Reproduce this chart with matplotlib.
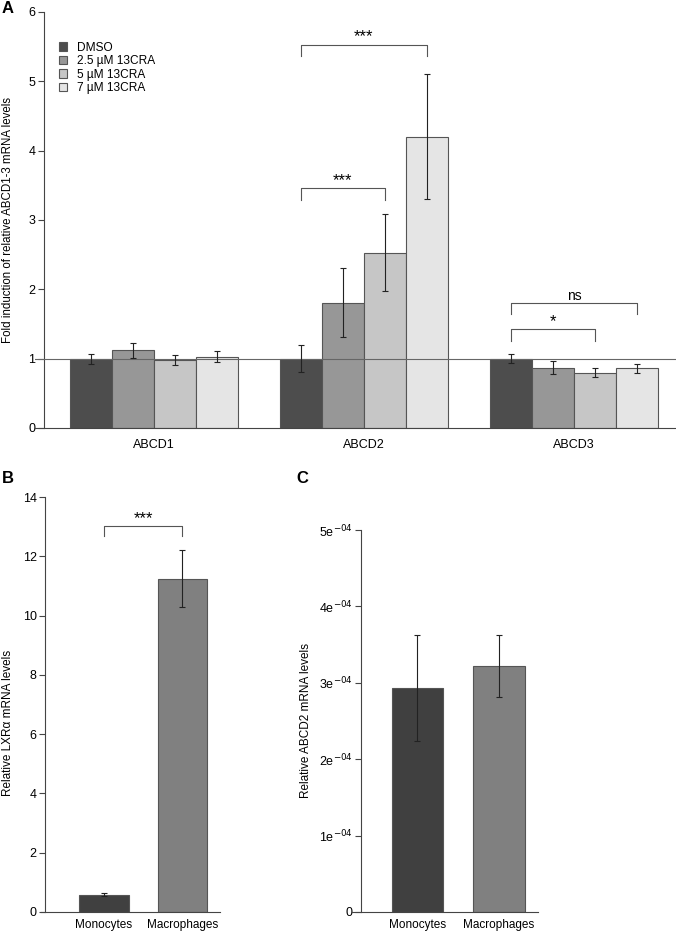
import matplotlib
matplotlib.use('Agg')
import matplotlib.pyplot as plt
import numpy as np

plt.rcParams['font.family'] = ['Liberation Sans', 'DejaVu Sans']

# panel A data
genes = ['ABCD1', 'ABCD2', 'ABCD3']
treatments = ['DMSO', '2.5 µM 13CRA', '5 µM 13CRA', '7 µM 13CRA']
fold = [[1.00, 1.00, 1.00],
        [1.12, 1.81, 0.87],
        [0.98, 2.53, 0.80],
        [1.03, 4.20, 0.86]]
fold_err = [[0.07, 0.19, 0.065],
            [0.11, 0.50, 0.09],
            [0.075, 0.55, 0.065],
            [0.085, 0.90, 0.07]]
a_colors = ['#4d4d4d', '#979797', '#c6c6c6', '#e5e5e5']
# (gene index, first bar, second bar, height, label)
a_sig = [(1, 0, 3, 5.53, '***'), (1, 0, 2, 3.46, '***'),
         (2, 0, 3, 1.81, 'ns'), (2, 0, 2, 1.43, '*')]

# panel B / C data
cells = ['Monocytes', 'Macrophages']
lxr = [0.59, 11.25]
lxr_err = [0.05, 0.97]
abcd2 = [2.93e-4, 3.22e-4]
abcd2_err = [0.69e-4, 0.40e-4]
bc_colors = ['#404040', '#808080']

W, H = 676, 932
fig = plt.figure(figsize=(W / 100, H / 100), dpi=100)

def px_axes(l, r, b, t):
    return fig.add_axes([l / W, (H - b) / H, (r - l) / W, (b - t) / H])

def style(ax, spine_x, xpad=8):
    for s in ['top', 'right']:
        ax.spines[s].set_visible(False)
    ax.spines['left'].set_position(('data', spine_x))
    for s in ['left', 'bottom']:
        ax.spines[s].set_color('#444444')
        ax.spines[s].set_linewidth(0.8)
    ax.tick_params(axis='y', length=4, width=0.8, color='#444444', labelsize=9, pad=2)
    ax.tick_params(axis='x', length=0, labelsize=9, pad=xpad)

def bracket(ax, x1, x2, y, drop, label, fs=12):
    ax.plot([x1, x1, x2, x2], [y - drop, y, y, y - drop], color='#555555', lw=0.8)
    ax.text((x1 + x2) / 2, y, label, ha='center', va='bottom', fontsize=fs)

# ---- panel A
axA = px_axes(35, 676, 428, 12)
for j in range(4):
    xs = np.arange(3) * 5 + j + 0.5
    axA.bar(xs, fold[j], width=1, color=a_colors[j], edgecolor='#555555',
            linewidth=0.8, label=treatments[j], zorder=2)
    axA.errorbar(xs, fold[j], yerr=fold_err[j], fmt='none', ecolor='#222222',
                 elinewidth=0.8, capsize=2, capthick=0.8, zorder=4)
axA.set_xlim(-0.83, 14.43)
axA.set_ylim(0, 6)
axA.axhline(1, color='#666666', lw=0.8, zorder=3)
style(axA, -0.62)
axA.set_xticks(np.arange(3) * 5 + 2)
axA.set_xticklabels(genes)
axA.set_yticks(range(7))
for g, i, k, y, lab in a_sig:
    if lab == 'ns':
        bracket(axA, g * 5 + i + 0.5, g * 5 + k + 0.5, y, 0.17, lab, fs=10)
    else:
        bracket(axA, g * 5 + i + 0.5, g * 5 + k + 0.5, y, 0.17, lab)
axA.legend(loc='upper left', bbox_to_anchor=(54 / W, 1 - 37 / H), bbox_transform=fig.transFigure,
           frameon=False, fontsize=8.6, handlelength=0.7, handleheight=0.7,
           labelspacing=0.12, handletextpad=0.8, borderaxespad=0)
fig.text(8 / W, 1 - 220 / H, 'Fold induction of relative ABCD1-3 mRNA levels',
         rotation=90, ha='center', va='center', fontsize=8.3)
fig.text(2 / W, 1 - 1 / H, 'A', fontsize=12, fontweight='bold', ha='left', va='top')

# ---- panel B
axB = px_axes(41, 220, 912, 497)
axB.bar([0, 1], lxr, width=0.63, color=bc_colors, edgecolor='#555555', linewidth=0.8, zorder=2)
axB.errorbar([0, 1], lxr, yerr=lxr_err, fmt='none', ecolor='#222222',
             elinewidth=0.8, capsize=2, capthick=0.8, zorder=3)
axB.set_xlim(-0.80, 1.48)
axB.set_ylim(0, 14)
style(axB, -0.75, xpad=5)
axB.set_xticks([0, 1])
axB.set_xticklabels(cells, fontsize=8.5)
axB.set_yticks(range(0, 15, 2))
bracket(axB, 0, 1, 13.03, 0.33, '***')
fig.text(8 / W, 1 - 723 / H, 'Relative LXRα mRNA levels', rotation=90,
         ha='center', va='center', fontsize=8.5)
fig.text(2 / W, 1 - 478 / H, 'B', fontsize=12, fontweight='bold', ha='left', va='center')

# ---- panel C
axC = px_axes(352, 538, 912, 530)
axC.bar([0, 1], abcd2, width=0.63, color=bc_colors, edgecolor='#555555', linewidth=0.8, zorder=2)
axC.errorbar([0, 1], abcd2, yerr=abcd2_err, fmt='none', ecolor='#222222',
             elinewidth=0.8, capsize=2, capthick=0.8, zorder=3)
axC.set_xlim(-0.80, 1.48)
axC.set_ylim(0, 5e-4)
style(axC, -0.69, xpad=5)
axC.set_xticks([0, 1])
axC.set_xticklabels(cells, fontsize=8.5)
ct = np.arange(6) * 1e-4
axC.set_yticks(ct)
axC.set_yticklabels(['0'] + ['%de$^{-04}$' % k for k in range(1, 6)])
fig.text(306 / W, 1 - 720 / H, 'Relative ABCD2 mRNA levels', rotation=90,
         ha='center', va='center', fontsize=8.5)
fig.text(296 / W, 1 - 478 / H, 'C', fontsize=12, fontweight='bold', ha='left', va='center')

fig.savefig('out.png', dpi=100)
